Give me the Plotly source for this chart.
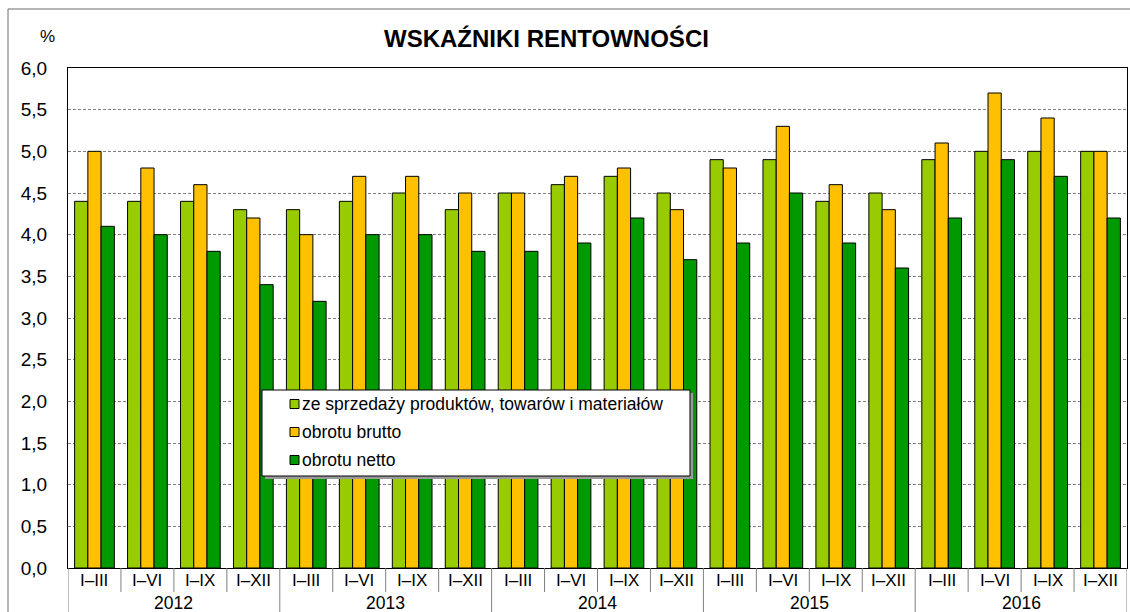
import plotly.graph_objects as go

# Profitability ratios (%) by cumulative period
years = ["2012", "2013", "2014", "2015", "2016"]
periods = ["I–III", "I–VI", "I–IX", "I–XII"]

series_names = [
    "ze sprzedaży produktów, towarów i materiałów",
    "obrotu brutto",
    "obrotu netto",
]
sprzedaz = [4.4, 4.4, 4.4, 4.3,
            4.3, 4.4, 4.5, 4.3,
            4.5, 4.6, 4.7, 4.5,
            4.9, 4.9, 4.4, 4.5,
            4.9, 5.0, 5.0, 5.0]
brutto = [5.0, 4.8, 4.6, 4.2,
          4.0, 4.7, 4.7, 4.5,
          4.5, 4.7, 4.8, 4.3,
          4.8, 5.3, 4.6, 4.3,
          5.1, 5.7, 5.4, 5.0]
netto = [4.1, 4.0, 3.8, 3.4,
         3.2, 4.0, 4.0, 3.8,
         3.8, 3.9, 4.2, 3.7,
         3.9, 4.5, 3.9, 3.6,
         4.2, 4.9, 4.7, 4.2]
y_ticks = [0.0, 0.5, 1.0, 1.5, 2.0, 2.5, 3.0, 3.5, 4.0, 4.5, 5.0, 5.5, 6.0]

colors = ["#99CC00", "#FFC000", "#009900"]

W, H = 1130, 612
L, R, T, B = 68, 3, 68, 44
PW, PH = W - L - R, H - T - B


def px(x):
    return (x - L) / PW


def py(y):
    return (H - B - y) / PH


n = len(years) * len(periods)
xs = list(range(n))

fig = go.Figure()
for name, vals, col in zip(series_names, [sprzedaz, brutto, netto], colors):
    fig.add_trace(go.Bar(
        x=xs, y=vals, name=name, marker_color=col,
        marker_line_color="#000000", marker_line_width=1,
        showlegend=False,
    ))

shapes = []
annotations = []

# Outer frame
shapes.append(dict(type="rect", xref="paper", yref="paper",
                   x0=px(8), x1=px(1140), y0=py(9), y1=py(640),
                   line=dict(color="#6e6e6e", width=1), layer="below"))

# Category boundaries and labels below the axis
for i in range(n + 1):
    is_year = i % len(periods) == 0
    shapes.append(dict(type="line", xref="x", yref="paper",
                       x0=i - 0.5, x1=i - 0.5, y0=0, y1=py(640 if is_year else 592),
                       line=dict(color="#7f7f7f", width=1)))
for i in range(n):
    annotations.append(dict(text=periods[i % len(periods)], xref="x", yref="paper",
                            x=i, y=py(580), showarrow=False,
                            font=dict(size=17, color="#000000"),
                            xanchor="center", yanchor="middle"))
for k, yr in enumerate(years):
    annotations.append(dict(text=yr, xref="x", yref="paper",
                            x=k * len(periods) + (len(periods) - 1) / 2, y=py(603),
                            showarrow=False, font=dict(size=17.5, color="#000000"),
                            xanchor="center", yanchor="middle"))

# Title and unit
annotations.append(dict(text="<b>WSKAŹNIKI RENTOWNOŚCI</b>", xref="paper", yref="paper",
                        x=px(546), y=py(39), showarrow=False,
                        font=dict(size=24, color="#000000"),
                        xanchor="center", yanchor="middle"))
annotations.append(dict(text="%", xref="paper", yref="paper",
                        x=px(47), y=py(37), showarrow=False,
                        font=dict(size=17, color="#000000"),
                        xanchor="center", yanchor="middle"))

# Legend box
lx0, lx1, ly0, ly1 = 262, 690, 390, 476
shapes.append(dict(type="rect", xref="paper", yref="paper",
                   x0=px(lx0 + 3), x1=px(lx1 + 3), y0=py(ly0 + 3), y1=py(ly1 + 3),
                   fillcolor="#9a9a9a", line=dict(width=0)))
shapes.append(dict(type="rect", xref="paper", yref="paper",
                   x0=px(lx0), x1=px(lx1), y0=py(ly0), y1=py(ly1),
                   fillcolor="#ffffff", line=dict(color="#000000", width=1)))
for j, (name, col) in enumerate(zip(series_names, colors)):
    cy = 404 + j * 28
    shapes.append(dict(type="rect", xref="paper", yref="paper",
                       x0=px(290), x1=px(299), y0=py(cy - 4.5), y1=py(cy + 4.5),
                       fillcolor=col, line=dict(color="#000000", width=1)))
    annotations.append(dict(text=name, xref="paper", yref="paper",
                            x=px(300), y=py(cy), showarrow=False,
                            font=dict(size=17.5, color="#000000"),
                            xanchor="left", yanchor="middle"))

fig.update_layout(
    width=W, height=H,
    margin=dict(l=L, r=R, t=T, b=B, pad=0),
    paper_bgcolor="#ffffff", plot_bgcolor="#ffffff",
    barmode="group", bargap=0.25, bargroupgap=0,
    font=dict(family="Liberation Sans, Arial", color="#000000"),
    separators=",.",
    shapes=shapes, annotations=annotations,
    showlegend=False,
)
fig.update_xaxes(range=[-0.5, n - 0.5], showticklabels=False, ticks="",
                 showgrid=False, zeroline=False,
                 showline=True, linecolor="#000000", linewidth=1, mirror=True)
fig.update_yaxes(range=[0, 6], tickvals=y_ticks, tickformat=".1f",
                 tickfont=dict(size=19), ticks="", ticklabelstandoff=16,
                 showgrid=True, gridcolor="#808080", gridwidth=1, griddash="3px,2px",
                 zeroline=False,
                 showline=True, linecolor="#000000", linewidth=1, mirror=True)

fig.write_html("out.html")
